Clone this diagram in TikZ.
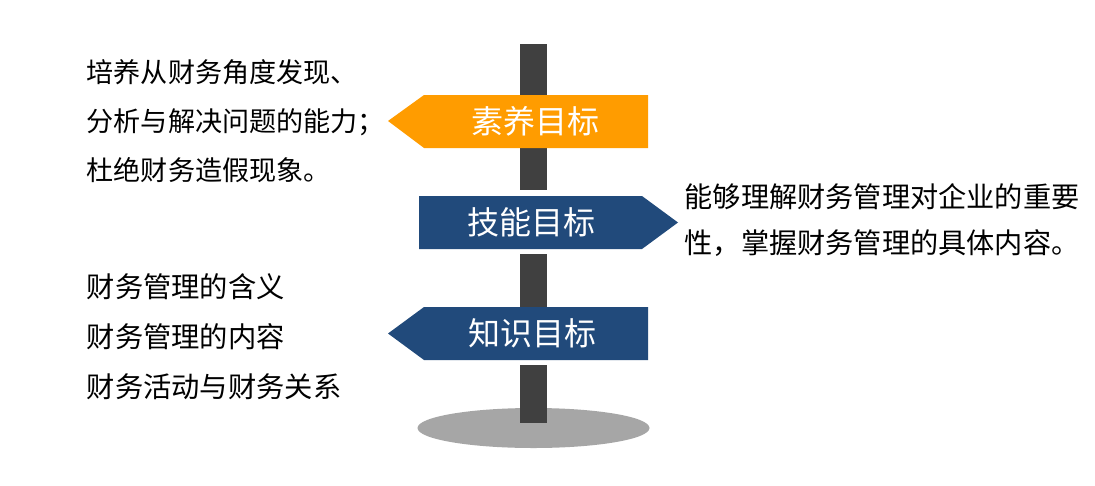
\documentclass[tikz,border=0pt]{standalone}
\usepackage{fontspec}
\setmainfont{Noto Sans CJK SC}
\definecolor{signorange}{HTML}{FF9C00}
\definecolor{signblue}{HTML}{214A7B}
\definecolor{poledark}{HTML}{404040}
\definecolor{basegray}{HTML}{A6A6A6}
\begin{document}
\begin{tikzpicture}[x=1pt,y=-1pt,
  signtext/.style={text=white,font=\fontsize{32}{36}\selectfont,inner sep=0pt},
  bodytext/.style={anchor=west,align=left,inner sep=0pt,text=black},
]
\useasboundingbox[fill=white] (0,0) rectangle (1095,485);
% base
\fill[basegray] (533.5,428) ellipse [x radius=116, y radius=20];
% pole segments
\fill[poledark] (520,44) rectangle (547,190);
\fill[poledark] (520,254) rectangle (547,307);
\fill[poledark] (520,365) rectangle (547,423);
% signs
\fill[signorange] (388,121) -- (424,95) -- (648,95) -- (648,148) -- (424,148) -- cycle;
\fill[signblue] (419,196) -- (642,196) -- (678,222.5) -- (642,249) -- (419,249) -- cycle;
\fill[signblue] (388,333.5) -- (424,307) -- (648,307) -- (648,360) -- (424,360) -- cycle;
\node[signtext] (suyang) at (535,121.5) {素养目标};
\node[signtext] (jineng) at (531,222.5) {技能目标};
\node[signtext] (zhishi) at (532,333.5) {知识目标};
% texts
\node[bodytext,font=\fontsize{27.1}{49}\selectfont] (t1) at (86.5,121) {培养从财务角度发现、\\分析与解决问题的能力；\\杜绝财务造假现象。};
\node[bodytext,font=\fontsize{28.2}{46}\selectfont] (t2) at (684.5,220) {能够理解财务管理对企业的重要\\性，掌握财务管理的具体内容。};
\node[bodytext,font=\fontsize{28.3}{50}\selectfont] (t3) at (86.5,337) {财务管理的含义\\财务管理的内容\\财务活动与财务关系};
\end{tikzpicture}
\end{document}
